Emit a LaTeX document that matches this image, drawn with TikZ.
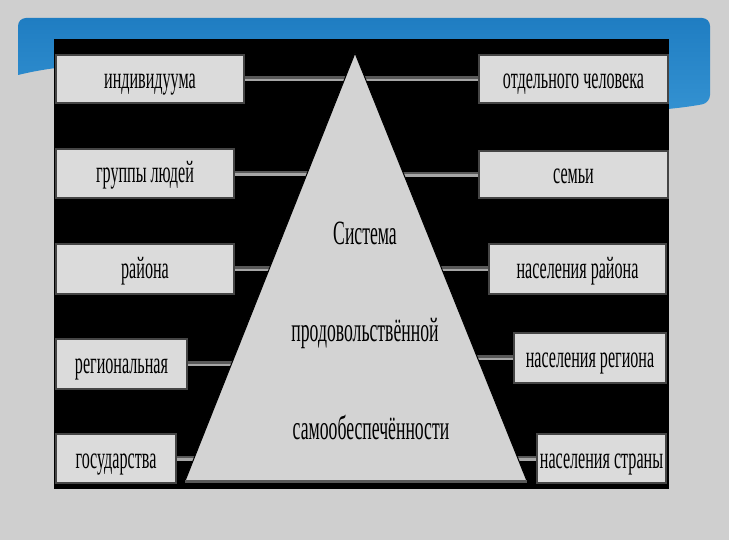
\documentclass[tikz,border=0pt]{standalone}
\usepackage{fontspec}
\newfontfamily\narrowfont{Liberation Serif}[FakeStretch=0.52]
\usepackage{tikz}
\usetikzlibrary{positioning,calc}
\definecolor{slidebg}{HTML}{CFCFCF}
\definecolor{boxfill}{HTML}{DBDBDB}
\definecolor{boxedge}{HTML}{454545}
\definecolor{trifill}{HTML}{D3D3D3}
\definecolor{headblue}{HTML}{1F7DC2}
\definecolor{headlight}{HTML}{3A98D6}

\begin{document}
\begin{tikzpicture}[x=1pt,y=-1pt,
	level/.style={rectangle,draw=boxedge,line width=2pt,fill=boxfill,anchor=north west,inner sep=0pt,text height=19pt,text depth=0pt,font=\narrowfont\fontsize{31}{31}\selectfont},
	tritext/.style={font=\narrowfont\fontsize{34}{34}\selectfont,inner sep=0pt},
	link/.style={draw=black!65,line width=5pt,postaction={draw=black!35,line width=2.5pt,transform canvas={yshift=-1.2pt}}}]
	\useasboundingbox (0,0) rectangle (729,540);
	\fill[slidebg] (0,0) rectangle (729,540);
	% header band behind the panel
	\shade[top color=headblue,bottom color=headlight,rounded corners=8pt] (18,75) -- (18,18) -- (710,18) -- (710,103) [sharp corners] .. controls (500,140) and (200,30) .. (18,75);
	\fill[black] (54,39) rectangle (669,489);

	\coordinate (apex) at (355,53);
	\coordinate (bl) at (185,481);
	\coordinate (br) at (527,481);

	\node[level,minimum width=188,minimum height=48] (ind) at (55,54) {индивидуума};
	\node[level,minimum width=178,minimum height=49] (grp) at (55,148) {группы людей};
	\node[level,minimum width=178,minimum height=50] (ray) at (55,243) {района};
	\node[level,minimum width=131,minimum height=50] (reg) at (55,338) {региональная};
	\node[level,minimum width=120,minimum height=49] (gos) at (55,433) {государства};

	\node[level,minimum width=189,minimum height=48] (chel) at (478,54) {отдельного человека};
	\node[level,minimum width=189,minimum height=47] (sem) at (478,150) {семьи};
	\node[level,minimum width=177,minimum height=50] (nray) at (488,243) {населения района};
	\node[level,minimum width=152,minimum height=50] (nreg) at (513,332) {населения региона};
	\node[level,minimum width=129,minimum height=49] (nstr) at (536,433) {населения страны};

	\foreach \b in {ind,grp,ray,reg,gos}
		\draw[link] (\b.east) -- (\b.east -| apex);
	\foreach \b in {chel,sem,nray,nreg,nstr}
		\draw[link] (\b.west) -- (\b.west -| apex);

	\draw[fill=trifill,line width=1pt] (apex) -- (bl) -- (br) -- cycle;
	\draw[black!65,line width=3pt] (bl) -- (br);

	\node[tritext] (sys) at (365,233) {Система};
	\node[tritext] (prod) at (365,333) {продовольствённой};
	\node[tritext] (samo) at (371,427) {самообеспечённости};
\end{tikzpicture}
\end{document}
